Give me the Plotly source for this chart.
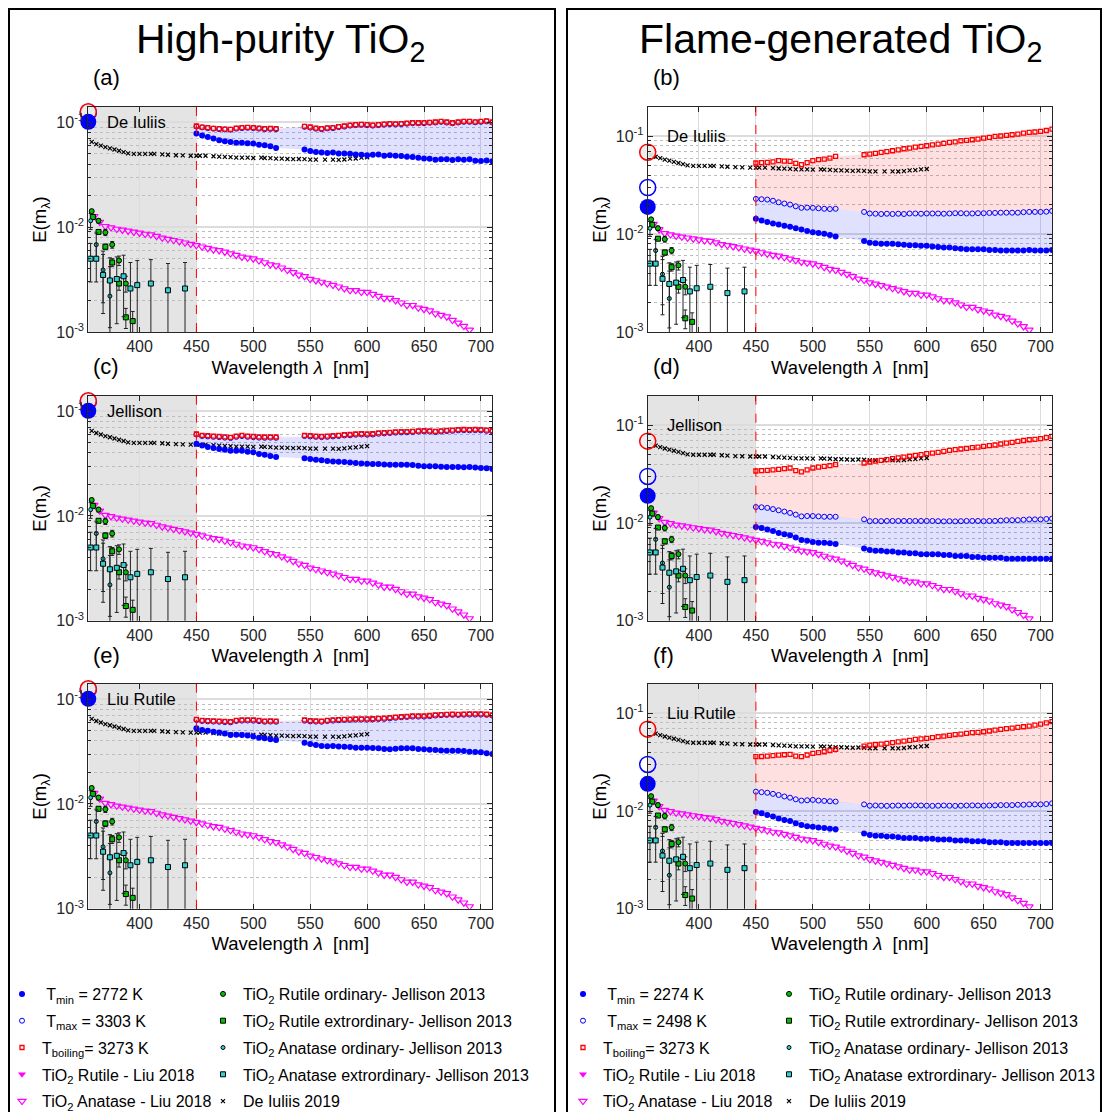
import plotly.graph_objects as go

FONT = "Liberation Sans, Arial, Helvetica, sans-serif"
AX = "#262626"
# page is 1110x1120; the browser adds an 8px body margin, so the figure itself is 16px smaller
PAGE_OFF = 8
W, H = 1110 - 2 * PAGE_OFF, 1120 - 2 * PAGE_OFF

# ---------------- data ----------------
wl_t = [450, 455, 460, 465, 470, 475, 480, 485, 490, 495, 500, 505, 510, 515, 520,
        545, 550, 555, 560, 565, 570, 575, 580, 585, 590, 595, 600, 605, 610, 615, 620,
        625, 630, 635, 640, 645, 650, 655, 660, 665, 670, 675, 680, 685, 690, 695, 700, 705, 710]

# (a) High-purity, De Iuliis
tmin_a = [0.078, 0.075, 0.0724, 0.070, 0.0674, 0.066, 0.0649, 0.064, 0.064, 0.063, 0.0627, 0.061, 0.0604, 0.059, 0.0569,
          0.0549, 0.0533, 0.052, 0.0514, 0.051, 0.0514, 0.0505, 0.0503, 0.050, 0.0492, 0.049, 0.0485, 0.049, 0.0492, 0.048, 0.0485, 0.048,
          0.0478, 0.047, 0.0467, 0.046, 0.0451, 0.045, 0.044, 0.0445, 0.0444, 0.0438, 0.0444, 0.044, 0.0444, 0.043, 0.0428, 0.0432, 0.0425]
tmax_a = [0.091, 0.0895, 0.088, 0.087, 0.086, 0.0855, 0.085, 0.087, 0.088, 0.0885, 0.088, 0.087, 0.086, 0.0865, 0.086,
          0.0905, 0.089, 0.087, 0.086, 0.0875, 0.088, 0.090, 0.091, 0.093, 0.094, 0.0945, 0.094, 0.093, 0.094, 0.095, 0.096, 0.0955,
          0.096, 0.097, 0.098, 0.098, 0.098, 0.099, 0.0995, 0.101, 0.0995, 0.098, 0.0995, 0.101, 0.101, 0.100, 0.101, 0.102, 0.0995]
tboil_a = [0.0922, 0.090, 0.089, 0.0875, 0.087, 0.086, 0.0858, 0.088, 0.089, 0.0895, 0.089, 0.088, 0.087, 0.0875, 0.087,
           0.0916, 0.0902, 0.088, 0.087, 0.0885, 0.089, 0.091, 0.0922, 0.094, 0.095, 0.0955, 0.095, 0.094, 0.095, 0.096, 0.097, 0.0965,
           0.097, 0.098, 0.0993, 0.099, 0.0993, 0.100, 0.1007, 0.102, 0.1007, 0.099, 0.1007, 0.102, 0.102, 0.101, 0.102, 0.103, 0.1007]

# (b) Flame-generated, De Iuliis
tmin_b = [0.0144, 0.0138, 0.0133, 0.0129, 0.0126, 0.0122, 0.0119, 0.0115, 0.0112, 0.0108, 0.0105, 0.0103, 0.0101, 0.0098, 0.0095,
          0.0085, 0.0082, 0.0081, 0.0080, 0.0080, 0.0080, 0.0079, 0.0078, 0.0077, 0.0077, 0.0076, 0.0076, 0.0075, 0.0074, 0.0073, 0.0073,
          0.0072, 0.0071, 0.0070, 0.0070, 0.0070, 0.0070, 0.0069, 0.0069, 0.0068, 0.0068, 0.0068, 0.0068, 0.0068, 0.0069, 0.0068, 0.0068, 0.0068, 0.0069]
tmax_b = [0.023, 0.0228, 0.0226, 0.022, 0.0212, 0.0206, 0.0201, 0.0193, 0.0186, 0.0187, 0.0186, 0.0184, 0.0182, 0.0181, 0.0182,
          0.0169, 0.0163, 0.0162, 0.0161, 0.0162, 0.0161, 0.0162, 0.0161, 0.0163, 0.0163, 0.0162, 0.0163, 0.0163, 0.0163, 0.0162, 0.0163,
          0.0164, 0.0164, 0.0163, 0.0163, 0.0164, 0.0164, 0.0165, 0.0165, 0.0166, 0.0166, 0.0166, 0.0166, 0.0168, 0.0169, 0.0169, 0.0169, 0.017, 0.0173]
tboil_b = [0.0535, 0.054, 0.0543, 0.055, 0.0565, 0.056, 0.0556, 0.053, 0.0514, 0.054, 0.0565, 0.058, 0.0587, 0.060, 0.0625,
           0.065, 0.066, 0.067, 0.0687, 0.070, 0.0714, 0.073, 0.0748, 0.076, 0.0778, 0.079, 0.0803, 0.082, 0.0835, 0.085, 0.0868,
           0.088, 0.0903, 0.091, 0.0925, 0.094, 0.0962, 0.098, 0.100, 0.101, 0.1024, 0.104, 0.1057, 0.108, 0.110, 0.111, 0.1125, 0.115, 0.1189]

# (c) High-purity, Jellison
tmin_c = [0.0491, 0.047, 0.0456, 0.0445, 0.0436, 0.043, 0.042, 0.042, 0.042, 0.041, 0.0406, 0.039, 0.0385, 0.0375, 0.0366,
          0.0357, 0.035, 0.0345, 0.034, 0.0335, 0.0332, 0.033, 0.0328, 0.0325, 0.032, 0.0318, 0.0316, 0.0314, 0.0313, 0.031, 0.0309,
          0.0309, 0.0309, 0.0308, 0.0307, 0.0302, 0.0298, 0.0299, 0.0298, 0.0295, 0.0293, 0.0293, 0.0293, 0.0292, 0.0293, 0.029, 0.0287, 0.0285, 0.0281]
tmax_c = [0.060, 0.058, 0.0575, 0.057, 0.0566, 0.056, 0.0555, 0.057, 0.058, 0.057, 0.0566, 0.056, 0.0558, 0.056, 0.0558,
          0.058, 0.0575, 0.057, 0.0566, 0.057, 0.0575, 0.058, 0.0588, 0.059, 0.0597, 0.060, 0.0597, 0.060, 0.061, 0.0615, 0.062,
          0.0625, 0.0628, 0.063, 0.0633, 0.064, 0.0642, 0.064, 0.0633, 0.064, 0.0647, 0.065, 0.0657, 0.066, 0.0657, 0.066, 0.0657, 0.065, 0.0642]
tboil_c = [0.0607, 0.059, 0.0585, 0.058, 0.0576, 0.057, 0.0564, 0.058, 0.0589, 0.058, 0.0576, 0.057, 0.0568, 0.057, 0.0568,
           0.0589, 0.0585, 0.058, 0.0576, 0.058, 0.0585, 0.059, 0.0598, 0.060, 0.0607, 0.061, 0.0607, 0.061, 0.0621, 0.0625, 0.063,
           0.0635, 0.0639, 0.064, 0.0644, 0.065, 0.0653, 0.065, 0.0644, 0.065, 0.0658, 0.066, 0.0668, 0.067, 0.0668, 0.067, 0.0668, 0.066, 0.0653]

# (d) Flame-generated, Jellison
tmin_d = [0.0091, 0.0089, 0.0086, 0.0083, 0.0079, 0.0077, 0.0075, 0.0071, 0.0067, 0.0066, 0.0064, 0.0063, 0.0063, 0.0062, 0.0061,
          0.0055, 0.0053, 0.0052, 0.0052, 0.0051, 0.0051, 0.0050, 0.0050, 0.0049, 0.0049, 0.0048, 0.0048, 0.0048, 0.0048, 0.0047, 0.0047,
          0.0046, 0.0046, 0.0046, 0.0045, 0.0045, 0.0044, 0.0044, 0.0044, 0.0044, 0.0043, 0.0043, 0.0043, 0.0043, 0.0043, 0.0043, 0.0043, 0.0043, 0.0043]
tmax_d = [0.0146, 0.0145, 0.0143, 0.0139, 0.0135, 0.0131, 0.0127, 0.0122, 0.0117, 0.0118, 0.0118, 0.0117, 0.0116, 0.0116, 0.0116,
          0.0109, 0.01045, 0.0105, 0.01045, 0.0105, 0.0105, 0.0105, 0.0105, 0.0105, 0.0105, 0.0105, 0.0105, 0.0105, 0.01045, 0.0104, 0.01045,
          0.0104, 0.01045, 0.0105, 0.0105, 0.0105, 0.01045, 0.0105, 0.0105, 0.0106, 0.0107, 0.0107, 0.0107, 0.0108, 0.0109, 0.0109, 0.0109, 0.011, 0.0111]
tboil_d = [0.0341, 0.0344, 0.0347, 0.035, 0.0355, 0.036, 0.0366, 0.0345, 0.0334, 0.035, 0.0366, 0.0374, 0.0381, 0.0388, 0.0396,
           0.0412, 0.0422, 0.043, 0.0438, 0.0447, 0.0456, 0.0465, 0.0474, 0.0483, 0.0493, 0.0503, 0.0513, 0.052, 0.053, 0.0542, 0.0555,
           0.0564, 0.0573, 0.0582, 0.0591, 0.060, 0.061, 0.062, 0.063, 0.0645, 0.0659, 0.067, 0.0686, 0.070, 0.0713, 0.072, 0.0731, 0.075, 0.0772]

# (e) High-purity, Liu Rutile
tmin_e = [0.0528, 0.051, 0.0502, 0.049, 0.0481, 0.047, 0.0456, 0.0458, 0.0456, 0.045, 0.044, 0.043, 0.0424, 0.0415, 0.0408,
          0.0385, 0.0374, 0.0365, 0.0358, 0.0356, 0.0358, 0.0355, 0.0353, 0.035, 0.0345, 0.0345, 0.0345, 0.0342, 0.034, 0.0336, 0.0333,
          0.0337, 0.034, 0.034, 0.034, 0.0335, 0.0333, 0.033, 0.0328, 0.0325, 0.0323, 0.0323, 0.0323, 0.032, 0.0316, 0.0314, 0.0312, 0.0306, 0.0301]
tmax_e = [0.0634, 0.062, 0.0615, 0.0612, 0.061, 0.0605, 0.0602, 0.062, 0.0625, 0.0627, 0.0625, 0.0618, 0.061, 0.0612, 0.061,
          0.0625, 0.0615, 0.0612, 0.061, 0.062, 0.0625, 0.063, 0.0634, 0.0636, 0.0639, 0.064, 0.0639, 0.0642, 0.0648, 0.065, 0.0658,
          0.0665, 0.0673, 0.0678, 0.0683, 0.0683, 0.0683, 0.069, 0.0699, 0.0705, 0.0709, 0.071, 0.0709, 0.0712, 0.0714, 0.0714, 0.0714, 0.071, 0.0699]
tboil_e = [0.0644, 0.063, 0.0625, 0.0622, 0.062, 0.0615, 0.0612, 0.063, 0.0635, 0.0637, 0.0635, 0.0628, 0.062, 0.0622, 0.062,
           0.0635, 0.0625, 0.0622, 0.062, 0.063, 0.0635, 0.064, 0.0644, 0.0646, 0.0649, 0.065, 0.0649, 0.0652, 0.0658, 0.066, 0.0668,
           0.0675, 0.0683, 0.0688, 0.0693, 0.0693, 0.0693, 0.070, 0.0709, 0.0715, 0.0719, 0.072, 0.0719, 0.0722, 0.0724, 0.0724, 0.0724, 0.072, 0.0709]

# (f) Flame-generated, Liu Rutile
tmin_f = [0.0098, 0.0095, 0.0091, 0.0088, 0.0084, 0.0081, 0.0079, 0.0075, 0.0072, 0.0070, 0.0069, 0.0068, 0.0067, 0.0066, 0.0065,
          0.0059, 0.0057, 0.0056, 0.0056, 0.0055, 0.0055, 0.0054, 0.0053, 0.0053, 0.0053, 0.0052, 0.0052, 0.0052, 0.0051, 0.0051, 0.0051,
          0.0050, 0.0050, 0.0050, 0.0049, 0.0049, 0.0049, 0.0048, 0.0048, 0.0048, 0.0047, 0.0047, 0.0047, 0.0047, 0.0047, 0.0047, 0.0047, 0.0047, 0.0047]
tmax_f = [0.0158, 0.0156, 0.0154, 0.015, 0.0146, 0.0141, 0.0137, 0.0132, 0.0128, 0.0129, 0.013, 0.0128, 0.0127, 0.0126, 0.0125,
          0.0117, 0.01134, 0.0114, 0.01134, 0.0113, 0.01134, 0.0114, 0.01134, 0.0114, 0.01143, 0.0114, 0.01134, 0.0113, 0.01134, 0.0114, 0.01134,
          0.0113, 0.01134, 0.0114, 0.01143, 0.0114, 0.01134, 0.0114, 0.01143, 0.0115, 0.0115, 0.0115, 0.0116, 0.0116, 0.0117, 0.0117, 0.0117, 0.0118, 0.012]
tboil_f = [0.036, 0.0362, 0.0365, 0.037, 0.0374, 0.0377, 0.038, 0.0365, 0.036, 0.0375, 0.0389, 0.0397, 0.0405, 0.0417, 0.0428,
           0.0463, 0.0474, 0.048, 0.0485, 0.0493, 0.0501, 0.051, 0.0521, 0.053, 0.0542, 0.0548, 0.0555, 0.0566, 0.0577, 0.0586, 0.0596,
           0.0605, 0.0614, 0.0624, 0.0634, 0.064, 0.0649, 0.066, 0.0675, 0.0686, 0.0697, 0.0708, 0.0719, 0.073, 0.0741, 0.0758, 0.0778, 0.080, 0.0822]

# Large reference markers at the left edge: [T_boiling, T_max, T_min]
big_wl = [355]
big_hp = [0.126, 0.124, 0.101]
big_fl = [0.069, 0.030, 0.019]

# De Iuliis 2019
deiuliis_wl = [358, 362, 366, 370, 374, 378, 382, 386, 390, 395, 400, 405, 410, 413, 420, 425, 432, 438, 445, 450,
               453, 458, 465, 470, 475, 480, 485, 490, 495, 500, 507, 510, 515, 520, 525, 530, 535, 540, 545, 550,
               555, 563, 570, 575, 580, 585, 590, 595, 600]
deiuliis_e = [0.065, 0.062, 0.060, 0.058, 0.0565, 0.055, 0.0535, 0.052, 0.0505, 0.050, 0.050, 0.050, 0.050, 0.050, 0.0495, 0.049, 0.0485, 0.0483, 0.048, 0.048,
              0.048, 0.048, 0.0475, 0.047, 0.0468, 0.0465, 0.046, 0.046, 0.046, 0.0457, 0.046, 0.0457, 0.0455, 0.045, 0.045, 0.0447, 0.0445, 0.0447, 0.0445, 0.044,
              0.044, 0.044, 0.044, 0.0438, 0.0442, 0.045, 0.0452, 0.046, 0.0464]

# Liu 2018 anatase
liu_ana_wl = [360, 365, 370, 375, 380, 385, 390, 395, 400, 405, 410, 415, 420, 425, 430, 435, 440, 445, 450, 455,
              460, 465, 470, 475, 480, 485, 490, 495, 500, 505, 510, 515, 520, 525, 530, 535, 540, 545, 550, 555,
              560, 565, 570, 575, 580, 585, 590, 595, 600, 605, 610, 615, 620, 625, 630, 635, 640, 645, 650, 655,
              660, 665, 670, 675, 680, 685, 690]
liu_ana_e = [0.0127, 0.0112, 0.0102, 0.0099, 0.0096, 0.0094, 0.0092, 0.009, 0.0088, 0.0086, 0.0085, 0.0082, 0.0079, 0.0077, 0.0075, 0.0073, 0.0071, 0.0069, 0.0067, 0.0065,
             0.0063, 0.0061, 0.006, 0.0058, 0.0056, 0.0054, 0.0052, 0.0051, 0.005, 0.0048, 0.0046, 0.0044, 0.0043, 0.0041, 0.0039, 0.0037, 0.0035, 0.0034, 0.0032, 0.0031,
             0.003, 0.0029, 0.0028, 0.0027, 0.0026, 0.0025, 0.0025, 0.0024, 0.0024, 0.0023, 0.0022, 0.0021, 0.0021, 0.002, 0.0019, 0.0018, 0.0018, 0.0017, 0.00165, 0.0016,
             0.0015, 0.00145, 0.0014, 0.0013, 0.00122, 0.00114, 0.00105]

# Jellison 2013
rut_ord_wl = [358, 364, 370, 376, 382, 388]
rut_ord_e = [0.0142, 0.0115, 0.0089, 0.0068, 0.0048, 0.0029]
rut_ord_err = [0.0006, 0.0006, 0.0006, 0.0005, 0.0005, 0.0005]
rut_ext_wl = [359, 364, 370, 376, 382, 388, 394]
rut_ext_e = [0.0125, 0.009, 0.0065, 0.0046, 0.0029, 0.00138, 0.00127]
rut_ext_err = [0.0004, 0.0004, 0.0004, 0.0004, 0.0004, 0.0003, 0.0003]
ana_ord_wl = [357, 362, 368, 374]
ana_ord_e = [0.0115, 0.0068, 0.0039, 0.0022]
ana_ord_err = [0.002, 0.002, 0.002, 0.002]
ana_ext_wl = [357, 362, 368, 374, 380, 386, 392, 398, 410, 425, 440]
ana_ext_e = [0.005, 0.005, 0.0035, 0.0031, 0.0032, 0.0034, 0.0026, 0.0028, 0.0029, 0.0025, 0.0026]
ana_ext_err = [0.002, 0.002, 0.002, 0.002, 0.002, 0.002, 0.002, 0.002, 0.002, 0.002, 0.002]

x_ticks = [400, 450, 500, 550, 600, 650, 700]
y_ticks = [0.001, 0.01, 0.1]
y_ticktext = ["10<sup>-3</sup>", "10<sup>-2</sup>", "10<sup>-1</sup>"]
y_minor = [0.002, 0.003, 0.004, 0.005, 0.006, 0.007, 0.008, 0.009,
           0.02, 0.03, 0.04, 0.05, 0.06, 0.07, 0.08, 0.09, 0.2]

temps_hp = ["2772", "3303", "3273"]
temps_fl = ["2274", "2498", "3273"]

# ---------------- layout geometry (page pixel coordinates) ----------------
col_px = [(88.3, 492.3), (647.7, 1052.0)]
row_px = [(107, 332), (396, 620.7), (684, 908.7)]
ytop_hp = -0.854
ytop_fl = -0.699

panels = [
    dict(tag="(a)", name="De Iuliis", tmin=tmin_a, tmax=tmax_a, tboil=tboil_a, big=big_hp, grey=True, ytop=ytop_hp, col=0, row=0),
    dict(tag="(b)", name="De Iuliis", tmin=tmin_b, tmax=tmax_b, tboil=tboil_b, big=big_fl, grey=False, ytop=ytop_fl, col=1, row=0),
    dict(tag="(c)", name="Jellison", tmin=tmin_c, tmax=tmax_c, tboil=tboil_c, big=big_hp, grey=True, ytop=ytop_hp, col=0, row=1),
    dict(tag="(d)", name="Jellison", tmin=tmin_d, tmax=tmax_d, tboil=tboil_d, big=big_fl, grey=True, ytop=ytop_fl, col=1, row=1),
    dict(tag="(e)", name="Liu Rutile", tmin=tmin_e, tmax=tmax_e, tboil=tboil_e, big=big_hp, grey=True, ytop=ytop_hp, col=0, row=2),
    dict(tag="(f)", name="Liu Rutile", tmin=tmin_f, tmax=tmax_f, tboil=tboil_f, big=big_fl, grey=True, ytop=ytop_fl, col=1, row=2),
]

BLUE = "#0000ff"
RED = "#ff0000"
MAG = "#ff00ff"
GREEN = "#00c000"
CYAN = "#30d0d0"
RED_FILL = "rgba(255,0,0,0.12)"
BLUE_FILL = "rgba(0,0,255,0.12)"

fig = go.Figure()
layout = dict(width=W, height=H, margin=dict(l=0, r=0, t=0, b=0, autoexpand=False),
              paper_bgcolor="white", plot_bgcolor="white",
              font=dict(family=FONT, color="black"), showlegend=True)
shapes = []
annotations = []


def px2paper_x(px):
    return (px - PAGE_OFF) / W


def px2paper_y(py):
    return 1 - (py - PAGE_OFF) / H


for i, p in enumerate(panels):
    n = i + 1
    sfx = "" if n == 1 else str(n)
    xa, ya = "x" + sfx, "y" + sfx
    if n == 1:
        leg1, leg2, show = "legend", "legend2", True
        temps = temps_hp
    elif n == 2:
        leg1, leg2, show = "legend3", "legend4", True
        temps = temps_fl
    else:
        leg1, leg2, show = "legend", "legend2", False
        temps = temps_hp
    common = dict(xaxis=xa, yaxis=ya, hoverinfo="skip")

    # shaded bands
    fig.add_trace(go.Scatter(x=wl_t + wl_t[::-1], y=p["tboil"] + p["tmax"][::-1], mode="lines",
                             fill="toself", fillcolor=RED_FILL, line=dict(width=0), showlegend=False, **common))
    fig.add_trace(go.Scatter(x=wl_t + wl_t[::-1], y=p["tmax"] + p["tmin"][::-1], mode="lines",
                             fill="toself", fillcolor=BLUE_FILL, line=dict(width=0), showlegend=False, **common))

    # De Iuliis 2019 markers
    fig.add_trace(go.Scatter(x=deiuliis_wl, y=deiuliis_e, mode="markers",
                             marker=dict(symbol="x-thin", size=4, color="black", line=dict(color="black", width=1.2)),
                             showlegend=False, **common))

    # Temperature series
    fig.add_trace(go.Scatter(x=wl_t, y=p["tmin"], mode="markers", name=" T<sub>min</sub> = %s K" % temps[0],
                             marker=dict(symbol="circle", size=6, color=BLUE, line=dict(width=0)),
                             legend=leg1, legendgroup="g1", showlegend=show, **common))
    fig.add_trace(go.Scatter(x=wl_t, y=p["tmax"], mode="markers", name=" T<sub>max</sub> = %s K" % temps[1],
                             marker=dict(symbol="circle-open", size=5, color=BLUE, line=dict(width=1)),
                             legend=leg1, legendgroup="g2", showlegend=show, **common))
    fig.add_trace(go.Scatter(x=wl_t, y=p["tboil"], mode="markers", name="T<sub>boiling</sub>= %s K" % temps[2],
                             marker=dict(symbol="square-open", size=4, color=RED, line=dict(width=1.3)),
                             legend=leg1, legendgroup="g3", showlegend=show, **common))
    # Liu 2018
    fig.add_trace(go.Scatter(x=[None], y=[None], mode="markers", name="TiO<sub>2</sub> Rutile - Liu 2018",
                             marker=dict(symbol="triangle-down", size=7, color=MAG),
                             legend=leg1, legendgroup="g4", showlegend=show, **common))
    fig.add_trace(go.Scatter(x=liu_ana_wl, y=liu_ana_e, mode="markers", name="TiO<sub>2</sub> Anatase - Liu 2018",
                             marker=dict(symbol="triangle-down-open", size=7, color=MAG, line=dict(width=1.2)),
                             legend=leg1, legendgroup="g5", showlegend=show, **common))

    # Jellison 2013
    jel = [
        ("TiO<sub>2</sub> Rutile ordinary- Jellison 2013", rut_ord_wl, rut_ord_e, rut_ord_err, "circle", GREEN, 5),
        ("TiO<sub>2</sub> Rutile extrordinary- Jellison 2013", rut_ext_wl, rut_ext_e, rut_ext_err, "square", GREEN, 5),
        ("TiO<sub>2</sub> Anatase ordinary- Jellison 2013", ana_ord_wl, ana_ord_e, ana_ord_err, "circle", CYAN, 4),
        ("TiO<sub>2</sub> Anatase extrordinary- Jellison 2013", ana_ext_wl, ana_ext_e, ana_ext_err, "square", CYAN, 5),
    ]
    for k, (nm, xs, ys, es, sym, col, sz) in enumerate(jel):
        fig.add_trace(go.Scatter(x=xs, y=ys, mode="markers", name=nm,
                                 error_y=dict(type="data", array=es, color="#222222", thickness=1, width=2),
                                 marker=dict(symbol=sym, size=sz, color=col, line=dict(color="black", width=1)),
                                 legend=leg2, legendgroup="h%d" % k, showlegend=show, **common))
    fig.add_trace(go.Scatter(x=[None], y=[None], mode="markers", name="De Iuliis 2019",
                             marker=dict(symbol="x-thin", size=4, color="black", line=dict(color="black", width=1.2)),
                             legend=leg2, legendgroup="h4", showlegend=show, **common))

    # big markers on left axis edge
    fig.add_trace(go.Scatter(x=big_wl, y=[p["big"][1]], mode="markers", cliponaxis=False, showlegend=False,
                             marker=dict(symbol="circle-open", size=16, color=BLUE, line=dict(width=1.5)), **common))
    fig.add_trace(go.Scatter(x=big_wl, y=[p["big"][0]], mode="markers", cliponaxis=False, showlegend=False,
                             marker=dict(symbol="circle", size=16, color="rgba(235,235,235,0.9)", line=dict(width=1.5, color=RED)), **common))
    fig.add_trace(go.Scatter(x=big_wl, y=[p["big"][2]], mode="markers", cliponaxis=False, showlegend=False,
                             marker=dict(symbol="circle", size=16, color=BLUE, line=dict(width=0)), **common))

    # axes
    x0, x1 = col_px[p["col"]]
    yt, yb = row_px[p["row"]]
    layout["xaxis" + sfx] = dict(
        domain=[px2paper_x(x0), px2paper_x(x1)], anchor=ya, range=[355, 710],
        tickvals=x_ticks, ticks="inside", ticklen=5, tickcolor=AX, showline=True, linecolor=AX, linewidth=1,
        mirror="allticks", showgrid=True, gridcolor="#dcdcdc", gridwidth=1, zeroline=False,
        tickfont=dict(size=16, color=AX, family=FONT),
        title=dict(text="Wavelength <i>λ</i>&nbsp; [nm]", font=dict(size=18.5, color="black", family=FONT), standoff=6))
    layout["yaxis" + sfx] = dict(
        domain=[px2paper_y(yb), px2paper_y(yt)], anchor=xa, type="log", range=[-3, p["ytop"]],
        tickvals=y_ticks, ticktext=y_ticktext, ticks="inside", ticklen=5, tickcolor=AX,
        showline=True, linecolor=AX, linewidth=1, mirror="allticks",
        showgrid=True, gridcolor="#dcdcdc", gridwidth=2, zeroline=False,
        tickfont=dict(size=16, color=AX, family=FONT),
        minor=dict(tickvals=y_minor, ticks="inside", ticklen=3, tickcolor=AX,
                   showgrid=True, gridcolor="#bdbdbd", griddash="dot", gridwidth=1),
        title=dict(text="E(m<sub>λ</sub>)", font=dict(size=18.5, color="black", family=FONT), standoff=4))

    if p["grey"]:
        shapes.append(dict(type="rect", xref=xa, yref=ya + " domain", x0=355, x1=450, y0=0, y1=1,
                           fillcolor="#e4e4e4", line=dict(width=0), layer="below"))
    shapes.append(dict(type="line", xref=xa, yref=ya + " domain", x0=450, x1=450, y0=0, y1=1,
                       line=dict(color=RED, width=1, dash="dash"), layer="above"))

    annotations.append(dict(xref=xa, yref=ya, x=370, y=-1, text=p["name"], showarrow=False,
                            xanchor="left", yanchor="middle", font=dict(size=16.5, color="black", family=FONT)))
    annotations.append(dict(xref="paper", yref="paper", x=px2paper_x(x0 + 3), y=px2paper_y(yt - 29),
                            text=p["tag"], showarrow=False, xanchor="left", yanchor="middle",
                            font=dict(size=22, color="black", family=FONT)))

# titles
annotations.append(dict(xref="paper", yref="paper", x=px2paper_x(280), y=px2paper_y(42),
                        text="High-purity TiO<sub>2</sub>", showarrow=False, xanchor="center", yanchor="middle",
                        font=dict(size=41, color="black", family=FONT)))
annotations.append(dict(xref="paper", yref="paper", x=px2paper_x(840), y=px2paper_y(42),
                        text="Flame-generated TiO<sub>2</sub>", showarrow=False, xanchor="center", yanchor="middle",
                        font=dict(size=41, color="black", family=FONT)))


# outer boxes: open at the bottom (left, top, right sides), kept inside the figure
def box_path(xl, xr, yt_px):
    xl_p, xr_p, yt_p = px2paper_x(xl), px2paper_x(xr), px2paper_y(yt_px)
    return "M %f,0 L %f,%f L %f,%f L %f,0" % (xl_p, xl_p, yt_p, xr_p, yt_p, xr_p)


shapes.append(dict(type="path", xref="paper", yref="paper", path=box_path(9, 555, 9),
                   line=dict(color="black", width=2)))
shapes.append(dict(type="path", xref="paper", yref="paper", path=box_path(567, 1101, 9),
                   line=dict(color="black", width=2)))

leg_common = dict(xanchor="left", yanchor="top", bgcolor="rgba(0,0,0,0)", font=dict(size=16, family=FONT, color="black"),
                  traceorder="grouped", tracegroupgap=3, itemwidth=30, y=px2paper_y(977))
layout["legend"] = dict(x=px2paper_x(2), **leg_common)
layout["legend2"] = dict(x=px2paper_x(203), **leg_common)
layout["legend3"] = dict(x=px2paper_x(563), **leg_common)
layout["legend4"] = dict(x=px2paper_x(769), **leg_common)

layout["shapes"] = shapes
layout["annotations"] = annotations
fig.update_layout(**layout)

fig.write_html("out.html", config={"displayModeBar": False})
